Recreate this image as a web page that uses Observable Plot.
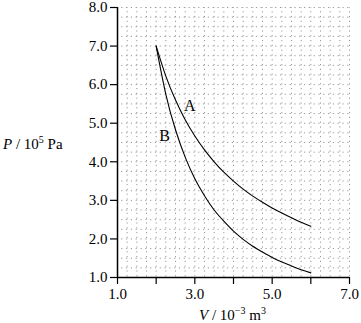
<!DOCTYPE html>
<html>
<head>
<meta charset="utf-8">
<script src="https://cdn.jsdelivr.net/npm/d3@7"></script>
<script src="https://cdn.jsdelivr.net/npm/@observablehq/plot@0.6"></script>
<style>
  html, body { margin: 0; padding: 0; background: #fff; }
  svg { display: block; }
  svg text { font-family: "Liberation Serif", "Times New Roman", Times, "DejaVu Serif", serif !important; }
</style>
</head>
<body>
<div id="chart"></div>
<script>
// Volume values (10^-3 m^3)
const volume = [2.0, 2.25, 2.5, 2.75, 3.0, 3.25, 3.5, 3.75, 4.0, 4.25, 4.5, 4.75, 5.0, 5.25, 5.5, 5.75, 6.0];
// Curve A pressure (10^5 Pa)
const pressureA = [7.0, 6.22, 5.6, 5.09, 4.67, 4.31, 4.0, 3.73, 3.5, 3.29, 3.11, 2.95, 2.8, 2.67, 2.55, 2.43, 2.33];
// Curve B pressure (10^5 Pa)
const pressureB = [7.0, 5.75, 4.83, 4.12, 3.56, 3.12, 2.75, 2.46, 2.20, 1.99, 1.81, 1.66, 1.52, 1.40, 1.30, 1.20, 1.12];
// Curve labels
const curveLabels = ["A", "B"];
const labelV = [2.87, 2.22];
const labelP = [5.45, 4.67];
// Tick values and labels
const xTicks = [1, 2, 3, 4, 5, 6, 7];
const xTickLabels = ["1.0", "", "3.0", "", "5.0", "", "7.0"];
const yTicks = [1, 2, 3, 4, 5, 6, 7, 8];
const yTickLabels = ["1.0", "2.0", "3.0", "4.0", "5.0", "6.0", "7.0", "8.0"];
const gridStep = 0.25;

const dataA = volume.map((v, i) => ({v, p: pressureA[i]}));
const dataB = volume.map((v, i) => ({v, p: pressureB[i]}));
const labels = curveLabels.map((t, i) => ({t, v: labelV[i], p: labelP[i]}));
const gridX = d3.range(1 + gridStep, 7 + 1e-9, gridStep);
const gridY = d3.range(1 + gridStep, 8 + 1e-9, gridStep);

const font = "Liberation Serif";

const svg = Plot.plot({
  width: 361,
  height: 323,
  marginLeft: 117,
  marginRight: 12,
  marginTop: 7,
  marginBottom: 46,
  style: { fontFamily: font, fontSize: "14px", color: "#000", background: "#fff" },
  x: { domain: [1, 7] },
  y: { domain: [1, 8] },
  marks: [
    Plot.ruleX(gridX, { stroke: "#999", strokeWidth: 1, strokeDasharray: "1.2,3.6", strokeDashoffset: 0.6, strokeOpacity: 1 }),
    Plot.ruleY(gridY, { stroke: "#999", strokeWidth: 1, strokeDasharray: "1.2,3.61", strokeDashoffset: 0.6, strokeOpacity: 1 }),
    Plot.axisX({
      ticks: xTicks,
      tickFormat: (d) => xTickLabels[xTicks.indexOf(d)],
      tickSize: 7,
      tickPadding: 4,
      fontSize: 15,
      fontFamily: font,
      label: null,
      strokeWidth: 1.2
    }),
    Plot.axisY({
      ticks: yTicks,
      tickFormat: d => yTickLabels[yTicks.indexOf(d)],
      tickSize: 7,
      tickPadding: 3,
      fontSize: 15,
      fontFamily: font,
      label: null,
      strokeWidth: 1.2
    }),
    Plot.ruleX([1], { stroke: "#000", strokeWidth: 1.5 }),
    Plot.ruleY([1], { stroke: "#000", strokeWidth: 1.5 }),
    Plot.line(dataA, { x: "v", y: "p", curve: "natural", stroke: "#000", strokeWidth: 1.1 }),
    Plot.line(dataB, { x: "v", y: "p", curve: "natural", stroke: "#000", strokeWidth: 1.1 }),
    Plot.text(labels, { x: "v", y: "p", text: "t", fontSize: 16, fontFamily: font, fill: "#000" })
  ]
});

const s = d3.select(svg);
// Y-axis label: P / 10^5 Pa
const yl = s.append("text").attr("x", 3).attr("y", 149).attr("text-anchor", "start")
  .attr("font-family", font).attr("font-size", 15).attr("fill", "#000");
yl.append("tspan").attr("font-style", "italic").text("P");
yl.append("tspan").text(" / 10");
yl.append("tspan").attr("font-size", 10).attr("dy", -6).text("5");
yl.append("tspan").attr("dy", 6).text(" Pa");

// X-axis label: V / 10^-3 m^3
const xl = s.append("text").attr("x", 199).attr("y", 320).attr("text-anchor", "start")
  .attr("font-family", font).attr("font-size", 15).attr("fill", "#000");
xl.append("tspan").attr("font-style", "italic").text("V");
xl.append("tspan").text(" / 10");
xl.append("tspan").attr("font-size", 10).attr("dy", -6).text("\u22123");
xl.append("tspan").attr("dy", 6).text(" m");
xl.append("tspan").attr("font-size", 10).attr("dy", -6).text("3");

document.getElementById("chart").appendChild(svg);
</script>
</body>
</html>
